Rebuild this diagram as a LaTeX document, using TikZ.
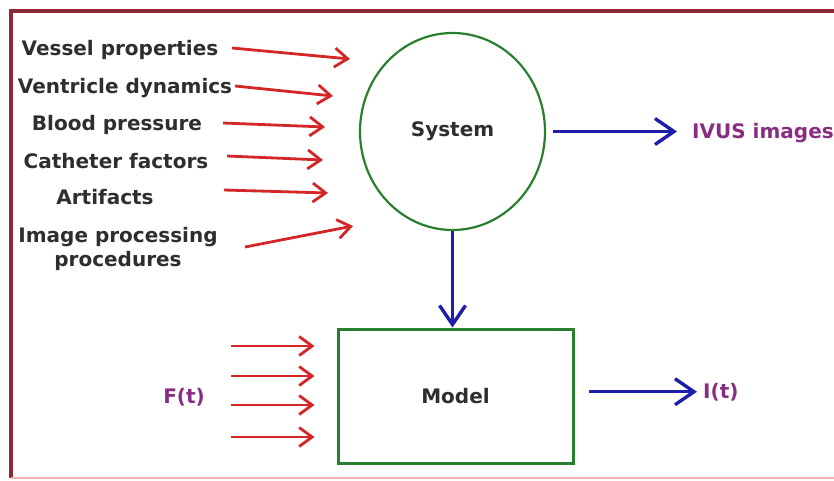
\documentclass[tikz,border=0pt]{standalone}
\usepackage{fontspec}
\setmainfont{DejaVu Sans}
\usepackage{tikz}
\usetikzlibrary{arrows.meta, positioning, shapes.geometric}
\usepackage{xcolor}
\definecolor{framered}{RGB}{140,40,55}
\definecolor{inred}{RGB}{212,38,38}
\definecolor{outblue}{RGB}{30,30,170}
\definecolor{sigpurple}{RGB}{135,45,130}
\definecolor{boxgreen}{RGB}{40,128,45}

\begin{document}
\begin{tikzpicture}[x=1pt, y=-1pt,
        factor/.style={font=\fontsize{20}{24}\selectfont\bfseries, text=black!82,
                       inner sep=0pt, anchor=base, align=center},
        sig/.style={font=\fontsize{20}{24}\selectfont\bfseries, text=sigpurple,
                    inner sep=0pt, anchor=base west},
        inarrow/.style={-{Straight Barb[length=13pt, width=19pt]}, line width=2.8pt, inred},
        outarrow/.style={-{Straight Barb[length=19pt, width=26pt]}, line width=3.4pt, outblue}
    ]
        \useasboundingbox (0,0) rectangle (834,480);

        % Cadre
        \draw[framered, line width=4pt] (11,478) -- (11,11) -- (834,11);
        \draw[inred!35, line width=1.5pt] (11,478) -- (834,478);

        % Facteurs d'entrée
        \node[factor] (vessel) at (120,55) {Vessel properties};
        \node[factor] (ventricle) at (125,93) {Ventricle dynamics};
        \node[factor] (pressure) at (117,130) {Blood pressure};
        \node[factor] (catheter) at (116,168) {Catheter factors};
        \node[factor] (artifacts) at (105,204) {Artifacts};
        \node[factor, anchor=center] (imgproc) at (118,249) {Image processing\\procedures};

        % Système et modèle
        \node[ellipse, draw=boxgreen, line width=2.2pt, minimum width=185pt, minimum height=197pt,
              inner sep=0pt, font=\fontsize{20}{24}\selectfont\bfseries, text=black!82]
            (system) at (452.5,131.5) {System};
        \node[draw=boxgreen, line width=3pt, minimum width=235pt, minimum height=134pt,
              inner sep=0pt, font=\fontsize{20}{24}\selectfont\bfseries, text=black!82]
            (model) at (455.5,396) {Model};

        % Sorties et signaux
        \node[sig] (ivus) at (692,138) {IVUS images};
        \node[sig] (out) at (703,398) {I(t)};
        \node[sig, anchor=base] (force) at (184,403) {F(t)};

        % Extrémités des flèches d'entrée
        \coordinate (vessel-t) at (232,48);    \coordinate (vessel-h) at (350,59);
        \coordinate (ventricle-t) at (235,86); \coordinate (ventricle-h) at (333,96);
        \coordinate (pressure-t) at (223,123); \coordinate (pressure-h) at (325,127);
        \coordinate (catheter-t) at (227,156); \coordinate (catheter-h) at (323,160);
        \coordinate (artifacts-t) at (224,190); \coordinate (artifacts-h) at (328,193);
        \coordinate (imgproc-t) at (245,247);  \coordinate (imgproc-h) at (353,226);

        \draw[inarrow] (vessel-t) -- (vessel-h);
        \draw[inarrow] (ventricle-t) -- (ventricle-h);
        \draw[inarrow] (pressure-t) -- (pressure-h);
        \draw[inarrow] (catheter-t) -- (catheter-h);
        \draw[inarrow] (artifacts-t) -- (artifacts-h);
        \draw[inarrow] (imgproc-t) -- (imgproc-h);

        % F(t) -> modèle
        \foreach \yy in {346,376,405,437}
            \draw[inarrow, shorten <=26pt, shorten >=22pt] (force.east |- 0,\yy) -- (model.west |- 0,\yy);

        % Flèches bleues
        \draw[outarrow, shorten <=7pt, shorten >=15pt] (system.east) -- (system.east -| ivus.west);
        \draw[outarrow] (system.south) -- (system.south |- model.north);
        \draw[outarrow, shorten <=14pt, shorten >=6pt] (out.west -| model.east) -- (out.west);
    \end{tikzpicture}
\end{document}
